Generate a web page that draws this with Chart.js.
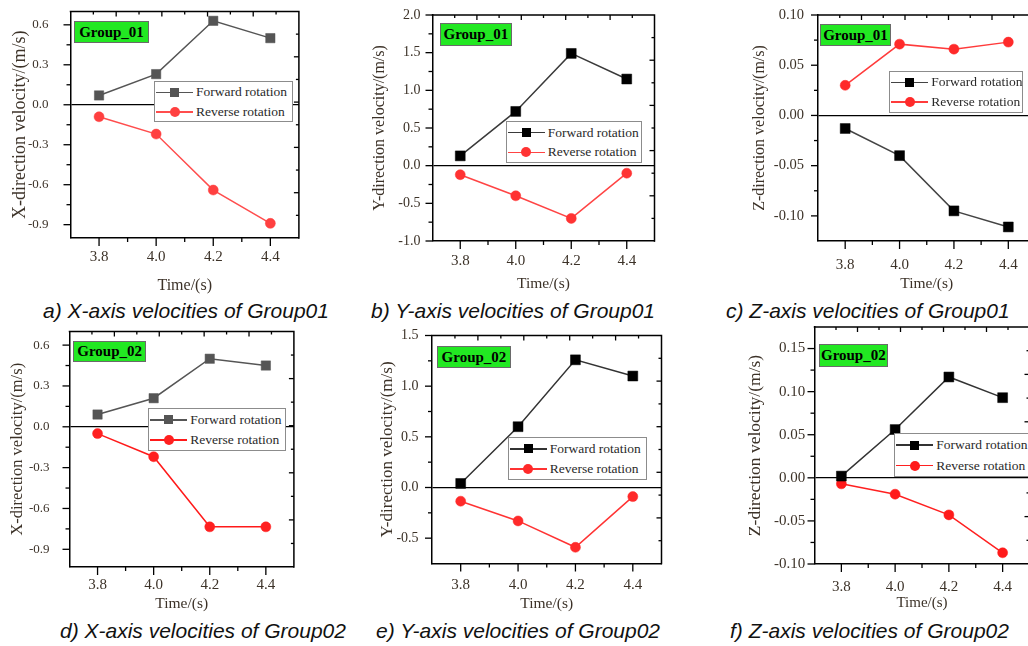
<!DOCTYPE html>
<html><head><meta charset="utf-8">
<script src="https://cdn.jsdelivr.net/npm/chart.js@4.4.0/dist/chart.umd.min.js"></script>
<style>
html,body{margin:0;padding:0;background:#fff;}
body{width:1028px;height:646px;position:relative;overflow:hidden;}
.wrap{position:absolute;}
canvas{display:block;}
.cap{position:absolute;font-family:'Liberation Sans',Arial,sans-serif;font-style:italic;font-size:21px;line-height:21px;color:#111;white-space:nowrap;}
.grp{position:absolute;background:#22e822;border:1px solid #6a6a6a;box-sizing:border-box;font-family:'Liberation Serif','Times New Roman',serif;font-weight:bold;font-size:15px;color:#000;text-align:center;white-space:nowrap;}
.leg{position:absolute;background:#fff;border:1px solid #8c8c8c;box-sizing:border-box;overflow:visible;}
.legtxt{position:absolute;font-family:'Liberation Serif','Times New Roman',serif;font-size:13.5px;color:#2a2a2a;white-space:nowrap;line-height:16px;}
.legline{position:absolute;height:1.6px;}
.legmk{position:absolute;}
</style></head><body>
<script>
// ---------------- DATA ----------------
const times = [3.8, 4.0, 4.2, 4.4];
const xTickValues = [3.8, 4.0, 4.2, 4.4];

const fwdXG1 = [0.07, 0.23, 0.63, 0.50];
const revXG1 = [-0.09, -0.22, -0.64, -0.89];
const fwdYG1 = [0.13, 0.72, 1.49, 1.15];
const revYG1 = [-0.12, -0.40, -0.70, -0.10];
const fwdZG1 = [-0.013, -0.040, -0.095, -0.111];
const revZG1 = [0.030, 0.071, 0.066, 0.073];

const fwdXG2 = [0.09, 0.21, 0.50, 0.45];
const revXG2 = [-0.05, -0.22, -0.735, -0.735];
const fwdYG2 = [0.04, 0.60, 1.26, 1.10];
const revYG2 = [-0.135, -0.33, -0.59, -0.09];
const fwdZG2 = [0.002, 0.056, 0.117, 0.093];
const revZG2 = [-0.007, -0.019, -0.043, -0.087];

const yTicksXG1 = [-0.9, -0.6, -0.3, 0, 0.3, 0.6];
const yTicksYG1 = [-1.0, -0.5, 0, 0.5, 1.0, 1.5, 2.0];
const yTicksZG1 = [-0.10, -0.05, 0, 0.05, 0.10];
const yTicksXG2 = [-0.9, -0.6, -0.3, 0, 0.3, 0.6];
const yTicksYG2 = [-0.5, 0, 0.5, 1.0, 1.5];
const yTicksZG2 = [-0.10, -0.05, 0, 0.05, 0.10, 0.15];

const seriesNames = ['Forward rotation', 'Reverse rotation'];
const xTitle = 'Time/(s)';
const yTitleX = 'X-direction velocity/(m/s)';
const yTitleY = 'Y-direction velocity/(m/s)';
const yTitleZ = 'Z-direction velocity/(m/s)';
const groupNames = ['Group_01', 'Group_02'];
const captions = ['a) X-axis velocities of Group01', 'b) Y-axis velocities of Group01', 'c) Z-axis velocities of Group01',
                  'd) X-axis velocities of Group02', 'e) Y-axis velocities of Group02', 'f) Z-axis velocities of Group02'];

// ---------------- LAYOUT / STYLE ----------------
const panels = [
  {fwd:fwdXG1, rev:revXG1, yTicks:yTicksXG1, yMin:-1.0, yMax:0.7, yStep:0.3, dec:1, yTitle:yTitleX, group:groupNames[0], caption:captions[0],
   area:[70.5,11.5,298,238], yTitleCx:20, yTitleSize:18, xTitleCy:285, xTitleSize:16, yTickSize:13, yTickPad:22, xTickPad:10,
   groupBox:[74,21,75,22], legendBox:[154,81,139,41], capPos:[43,299.5],
   fwdLine:'#555555', fwdMk:'#555555', revLine:'#ff4d4d', revMk:'#ff4040', sq:6.6},
  {fwd:fwdYG1, rev:revYG1, yTicks:yTicksYG1, yMin:-1.0, yMax:2.0, yStep:0.5, dec:1, yTitle:yTitleY, group:groupNames[0], caption:captions[1],
   area:[432.5,15,653.5,241], yTitleCx:380, yTitleSize:16, xTitleCy:283.3, xTitleSize:15.5, yTickSize:14, yTickPad:12, xTickPad:11,
   groupBox:[440,23.3,71.7,22.7], legendBox:[505.7,120.7,136,42.3], capPos:[371,299.5],
   fwdLine:'#3a3a3a', fwdMk:'#000000', revLine:'#ff4444', revMk:'#ff3333', sq:7},
  {fwd:fwdZG1, rev:revZG1, yTicks:yTicksZG1, yMin:-0.125, yMax:0.10, yStep:0.05, dec:2, yTitle:yTitleZ, group:groupNames[0], caption:captions[2],
   area:[818,15,1035,241], yTitleCx:760, yTitleSize:16, xTitleCy:283.3, xTitleSize:15.5, yTickSize:14.5, yTickPad:14, xTickPad:15,
   groupBox:[820,24,71,22], legendBox:[889.3,70.7,134,42], capPos:[726,299.5],
   fwdLine:'#444444', fwdMk:'#000000', revLine:'#ff3b3b', revMk:'#ff2a2a', sq:7},
  {fwd:fwdXG2, rev:revXG2, yTicks:yTicksXG2, yMin:-1.03, yMax:0.7, yStep:0.3, dec:1, yTitle:yTitleX, group:groupNames[1], caption:captions[3],
   area:[69.5,331.5,292.5,567], yTitleCx:18.3, yTitleSize:16.5, xTitleCy:603.3, xTitleSize:15.5, yTickSize:13, yTickPad:20, xTickPad:9,
   groupBox:[73.3,340.7,72.7,21.6], legendBox:[148.3,407.7,137.4,43.3], capPos:[60,620],
   fwdLine:'#555555', fwdMk:'#555555', revLine:'#ff1a1a', revMk:'#ff2020', sq:6.6},
  {fwd:fwdYG2, rev:revYG2, yTicks:yTicksYG2, yMin:-0.75, yMax:1.5, yStep:0.5, dec:1, yTitle:yTitleY, group:groupNames[1], caption:captions[4],
   area:[432,335.5,661,563.5], yTitleCx:386.7, yTitleSize:17, xTitleCy:604, xTitleSize:15.5, yTickSize:14, yTickPad:13.4, xTickPad:13,
   groupBox:[437.3,345.7,73.4,22], legendBox:[507.7,436.7,139,43.3], capPos:[376,620],
   fwdLine:'#333333', fwdMk:'#000000', revLine:'#ff3333', revMk:'#ff2a2a', sq:7},
  {fwd:fwdZG2, rev:revZG2, yTicks:yTicksZG2, yMin:-0.10, yMax:0.175, yStep:0.05, dec:2, yTitle:yTitleZ, group:groupNames[1], caption:captions[5],
   area:[814.5,327,1029,564], yTitleCx:755, yTitleSize:17.5, xTitleCy:603.3, xTitleSize:15, yTickSize:15, yTickPad:9.3, xTickPad:13.7,
   groupBox:[819,344,68.7,22.7], legendBox:[894.3,432.7,142,44], capPos:[730,620],
   fwdLine:'#333333', fwdMk:'#000000', revLine:'#ff2020', revMk:'#ff1a1a', sq:7}
];

const TXT = '#3c3228';
const SERIF = "'Liberation Serif','Times New Roman',serif";

function minors(maj, step, min, max) {
  const eps = 1e-9, out = [];
  maj.forEach(v => [v - step/2, v + step/2].forEach(m => {
    if (m > min + eps && m < max - eps && !maj.some(q => Math.abs(q - m) < eps) && !out.some(q => Math.abs(q - m) < eps)) out.push(m);
  }));
  return out;
}

const framePlugin = {
  id: 'frame',
  afterDraw(chart, args, o) {
    const {ctx, chartArea: a, scales: {x, y}} = chart;
    ctx.save();
    ctx.strokeStyle = '#000';
    ctx.lineWidth = 1.5;
    ctx.beginPath();
    ctx.moveTo(a.left - 0.75, a.top); ctx.lineTo(a.right, a.top); ctx.lineTo(a.right, a.bottom + 0.75);
    ctx.stroke();
    ctx.lineWidth = 1.3;
    const seg = (x1, y1, x2, y2) => { ctx.beginPath(); ctx.moveTo(x1, y1); ctx.lineTo(x2, y2); ctx.stroke(); };
    o.xMajor.forEach(v => { const p = x.getPixelForValue(v); seg(p, a.bottom, p, a.bottom + 8); });
    minors(o.xMajor, 0.2, x.min, x.max).forEach(v => { const p = x.getPixelForValue(v); seg(p, a.bottom, p, a.bottom + 4); });
    o.yMajor.forEach(v => { const p = y.getPixelForValue(v); seg(a.left, p, a.left - 7, p); });
    minors(o.yMajor, o.yStep, y.min, y.max).forEach(v => { const p = y.getPixelForValue(v); seg(a.left, p, a.left - 4, p); });
    for (let i = 1; i < 10; i++) {
      const len = i % 2 === 0 ? 5 : 3;
      const px = a.left + (a.right - a.left) * i / 10;
      seg(px, a.top, px, a.top + len);
      const py = a.top + (a.bottom - a.top) * i / 10;
      seg(a.right, py, a.right - len, py);
    }
    ctx.restore();
  }
};

function el(cls, styles, text) {
  const d = document.createElement('div');
  if (cls) d.className = cls;
  Object.assign(d.style, styles);
  if (text !== undefined) d.textContent = text;
  return d;
}

panels.forEach(p => {
  const [L, T, R, B] = p.area;
  const lhY = p.yTitleSize * 1.2, lhX = p.xTitleSize * 1.2;
  const cx = Math.round(p.yTitleCx - lhY / 2);
  const cy = Math.round(T - 10);
  const cw = Math.ceil(R + 8 - cx);
  const ch = Math.round(p.xTitleCy + lhX / 2 - cy);
  const W = L - cx;
  const H = (cy + ch) - B;

  const wrap = el('wrap', {left: cx + 'px', top: cy + 'px', width: cw + 'px', height: ch + 'px'});
  const cv = document.createElement('canvas');
  cv.width = cw; cv.height = ch;
  cv.style.width = cw + 'px'; cv.style.height = ch + 'px';
  wrap.appendChild(cv);
  document.body.appendChild(wrap);

  new Chart(cv, {
    type: 'line',
    data: {
      datasets: [
        {label: seriesNames[0], data: times.map((t, i) => ({x: t, y: p.fwd[i]})),
         borderColor: p.fwdLine, backgroundColor: p.fwdMk, borderWidth: 1.5, tension: 0,
         pointStyle: 'rect', pointRadius: p.sq, pointBackgroundColor: p.fwdMk, pointBorderColor: p.fwdMk, pointBorderWidth: 0.5, clip: false},
        {label: seriesNames[1], data: times.map((t, i) => ({x: t, y: p.rev[i]})),
         borderColor: p.revLine, backgroundColor: p.revMk, borderWidth: 1.5, tension: 0,
         pointStyle: 'circle', pointRadius: 5, pointBackgroundColor: p.revMk, pointBorderColor: p.revMk, pointBorderWidth: 0.5, clip: false}
      ]
    },
    options: {
      responsive: false, animation: false, devicePixelRatio: 1,
      layout: {padding: {left: 0, top: T - cy, right: cw - R, bottom: 0}},
      plugins: {legend: {display: false}, tooltip: {enabled: false},
                frame: {xMajor: xTickValues, yMajor: p.yTicks, yStep: p.yStep}},
      scales: {
        x: {
          type: 'linear', min: 3.7, max: 4.5,
          afterBuildTicks: s => { s.ticks = xTickValues.map(v => ({value: v})); },
          afterFit: s => { s.height = H; s.paddingLeft = 0; s.paddingRight = 0; s.paddingTop = 0; s.paddingBottom = 0; },
          ticks: {font: {family: SERIF, size: 15}, color: TXT, padding: p.xTickPad, maxRotation: 0, autoSkip: false,
                  callback: v => Number(v).toFixed(1)},
          grid: {display: false, drawTicks: false, tickLength: 0},
          border: {display: true, color: '#000', width: 1.5},
          title: {display: true, text: xTitle, color: TXT, font: {family: SERIF, size: p.xTitleSize}, padding: 0}
        },
        y: {
          type: 'linear', min: p.yMin, max: p.yMax,
          afterBuildTicks: s => { s.ticks = p.yTicks.map(v => ({value: v})); },
          afterFit: s => { s.width = W; s.paddingTop = 0; s.paddingBottom = 0; s.paddingLeft = 0; s.paddingRight = 0; },
          ticks: {font: {family: SERIF, size: p.yTickSize}, color: TXT, padding: p.yTickPad, autoSkip: false,
                  callback: v => Number(v).toFixed(p.dec)},
          grid: {display: true, drawOnChartArea: true, drawTicks: false, tickLength: 0, lineWidth: 1.3,
                 color: c => (c.tick && Math.abs(c.tick.value) < 1e-12) ? '#000' : 'rgba(0,0,0,0)'},
          border: {display: true, color: '#000', width: 1.5},
          title: {display: true, text: p.yTitle, color: TXT, font: {family: SERIF, size: p.yTitleSize}, padding: 0}
        }
      }
    },
    plugins: [framePlugin]
  });

  // group label
  const [gx, gy, gw, gh] = p.groupBox;
  document.body.appendChild(el('grp', {left: gx + 'px', top: gy + 'px', width: gw + 'px', height: gh + 'px', lineHeight: (gh - 2) + 'px'}, p.group));

  // legend
  const [lx, ly, lw, lh] = p.legendBox;
  const leg = el('leg', {left: lx + 'px', top: ly + 'px', width: lw + 'px', height: lh + 'px'});
  const rows = [
    {name: seriesNames[0], line: p.fwdLine, mk: p.fwdMk, shape: 'sq', cyr: lh * 0.28},
    {name: seriesNames[1], line: p.revLine, mk: p.revMk, shape: 'ci', cyr: lh * 0.75}
  ];
  rows.forEach(r => {
    leg.appendChild(el('legline', {left: '1px', width: '37px', top: (r.cyr - 1.8) + 'px', background: r.line}));
    const s = r.shape === 'sq' ? 9 : 10;
    leg.appendChild(el('legmk', {left: (19.5 - s / 2) + 'px', top: (r.cyr - 1 - s / 2) + 'px', width: s + 'px', height: s + 'px',
      background: r.mk, borderRadius: r.shape === 'ci' ? '50%' : '0'}));
    leg.appendChild(el('legtxt', {left: '41px', top: (r.cyr - 9) + 'px'}, r.name));
  });
  document.body.appendChild(leg);

  // caption
  document.body.appendChild(el('cap', {left: p.capPos[0] + 'px', top: p.capPos[1] + 'px'}, p.caption));
});
</script>
</body></html>
